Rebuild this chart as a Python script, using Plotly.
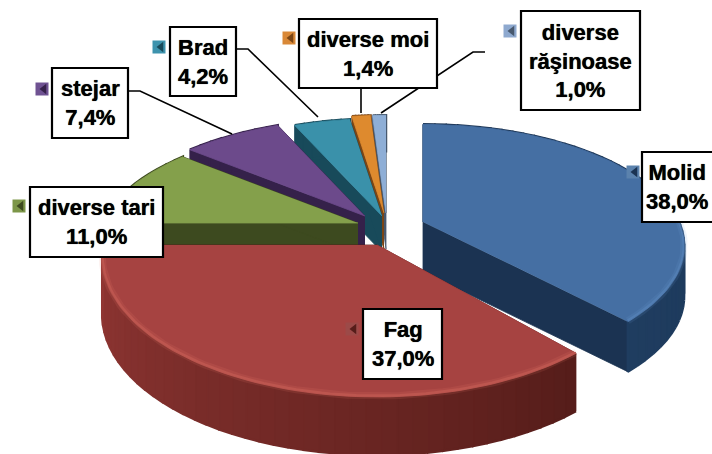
import numpy as np
import plotly.graph_objects as go

# --- data
labels = ["Molid", "Fag", "diverse tari", "stejar", "Brad", "diverse moi", "diverse răşinoase"]
values = [38.0, 37.0, 11.0, 7.4, 4.2, 1.4, 1.0]
value_text = ["38,0%", "37,0%", "11,0%", "7,4%", "4,2%", "1,4%", "1,0%"]

# --- styling
top_col = ["#456fa3", "#a64341", "#84a04b", "#6c4a8b", "#3a91aa", "#de8a2e", "#8eaed6"]
wall_front = ["#1b3352", "#561d1a", "#3d4a1f", "#35214a", "#184a5a", "#7a4515", "#47586e"]
wall_back = ["#1f3d60", "#923734", "#3d4a1f", "#35214a", "#184a5a", "#7a4515", "#47586e"]
key_col = ["#5b82ad", "#9c4a48", "#7c9648", "#6f5292", "#3d93ad", "#d98837", "#8ea9cf"]

# geometry of each exploded slice (vertex, radii, perspective, thickness)
BACK = (256.0, 117.0, 0.198)
FRONT = (274.0, 140.0, 0.0786)
geom = [
    (423, 222, *BACK, 50),
    (377, 245, *FRONT, 58),
    (358, 223, *BACK, 31),
    (365, 216, *BACK, 36),
    (382, 216, *BACK, 36),
    (384, 213, *BACK, 36),
    (386, 213, *BACK, 36),
]
# label boxes: x0, y0, x1, y1
boxes = [
    (642, 152, 716, 222), (363, 309, 442, 379), (30, 187, 163, 257),
    (52, 68, 128, 138), (170, 27, 236, 96), (299, 19, 437, 88), (521, 11, 640, 110),
]
keys = [(633, 172), (352, 329), (19, 206), (42, 89), (159, 47), (289, 38), (510, 31)]
leaders = {
    3: ([129, 140, 232], [91, 91, 134]),
    4: ([237, 248, 318], [49, 49, 117]),
    5: ([361, 361], [88, 113]),
    6: ([485, 473, 381], [52, 52, 113]),
}

fractions = np.array(values) / sum(values) * 360.0
ends = np.cumsum(fractions)
starts = ends - fractions


def project(slice_index, deg):
    vx, vy, rx, ry, k, _ = geom[slice_index]
    a = np.radians(deg)
    u, v = np.sin(a), -np.cos(a)
    w = 1 - k * v
    return vx + rx * u / w, vy + ry * v / w


def mix(c1, c2, f):
    a = [int(c1[i:i + 2], 16) for i in (1, 3, 5)]
    b = [int(c2[i:i + 2], 16) for i in (1, 3, 5)]
    return "rgb(%d,%d,%d)" % tuple(round(p + (q - p) * f) for p, q in zip(a, b))


fig = go.Figure()


def poly(xs, ys, color, lw=0.8):
    fig.add_trace(go.Scatter(x=list(xs), y=list(ys), mode="lines", fill="toself", fillcolor=color,
                             line=dict(color=color, width=lw), hoverinfo="skip", showlegend=False))


def draw_slice(i):
    vx, vy, *_, d = geom[i]
    s, e = starts[i], ends[i]
    for t in (s, e):
        px, py = project(i, t)
        poly([vx, px, px, vx], [vy, py, py + d, vy + d], wall_front[i])
    n = max(6, int((e - s) / 3))
    edges = np.linspace(s, e, n + 1)
    for j in range(n):
        ts = np.linspace(edges[j], edges[j + 1], 4)
        x, y = project(i, ts)
        f = (edges[j] - s) / max(e - s, 1)
        poly(np.r_[x, x[::-1]], np.r_[y, (y + d)[::-1]], mix(wall_front[i], wall_back[i], f), lw=2.5)
    ts = np.linspace(s, e, 80)
    x, y = project(i, ts)
    poly(np.r_[vx, x], np.r_[vy, y], top_col[i])
    if i < 2:
        mask = ts > 90
        for w, op in ((7, 0.12), (3, 0.22)):
            fig.add_trace(go.Scatter(x=x[mask], y=y[mask] - 1, mode="lines",
                                     line=dict(color="#f08070" if i == 1 else "#6f9fd8", width=w),
                                     opacity=op, hoverinfo="skip", showlegend=False))


for i in [6, 5, 4, 3, 2, 0, 1]:
    draw_slice(i)

for i, (lx, ly) in leaders.items():
    fig.add_trace(go.Scatter(x=lx, y=ly, mode="lines", line=dict(color="#000000", width=1.6),
                             hoverinfo="skip", showlegend=False))

# legend keys
for i, (kx, ky) in enumerate(keys):
    fig.add_trace(go.Scatter(x=[kx], y=[ky], mode="markers",
                             marker=dict(symbol="square", size=13, color=key_col[i]),
                             hoverinfo="skip", showlegend=False))
    fig.add_trace(go.Scatter(x=[kx + 2], y=[ky], mode="markers",
                             marker=dict(symbol="triangle-left", size=9, color=wall_front[i]),
                             hoverinfo="skip", showlegend=False))

shapes, annotations = [], []
for i, (x0, y0, x1, y1) in enumerate(boxes):
    shapes.append(dict(type="rect", xref="x", yref="y", x0=x0, y0=y0, x1=x1, y1=y1,
                       fillcolor="#ffffff", line=dict(color="#000000", width=2.2)))
    name = labels[i].replace(" ", "<br>") if i == 6 else labels[i]
    cx = (x0 + x1) / 2 if i else 677
    annotations.append(dict(x=cx, y=(y0 + y1) / 2, xref="x", yref="y", showarrow=False,
                            text=f"<b>{name}<br>{value_text[i]}</b>", align="center",
                            font=dict(family="Liberation Sans", size=22, color="#000000",
                                      shadow="0 0 0.7px #000000")))

fig.update_layout(
    width=712, height=454, margin=dict(l=0, r=0, t=0, b=0),
    paper_bgcolor="#ffffff", plot_bgcolor="#ffffff", showlegend=False,
    xaxis=dict(range=[0, 712], visible=False, fixedrange=True),
    yaxis=dict(range=[454, 0], visible=False, fixedrange=True),
    shapes=shapes, annotations=annotations,
)
fig.write_html("out.html", config=dict(displayModeBar=False),
               post_script="document.body.style.margin='0';document.documentElement.style.overflow='hidden';")
